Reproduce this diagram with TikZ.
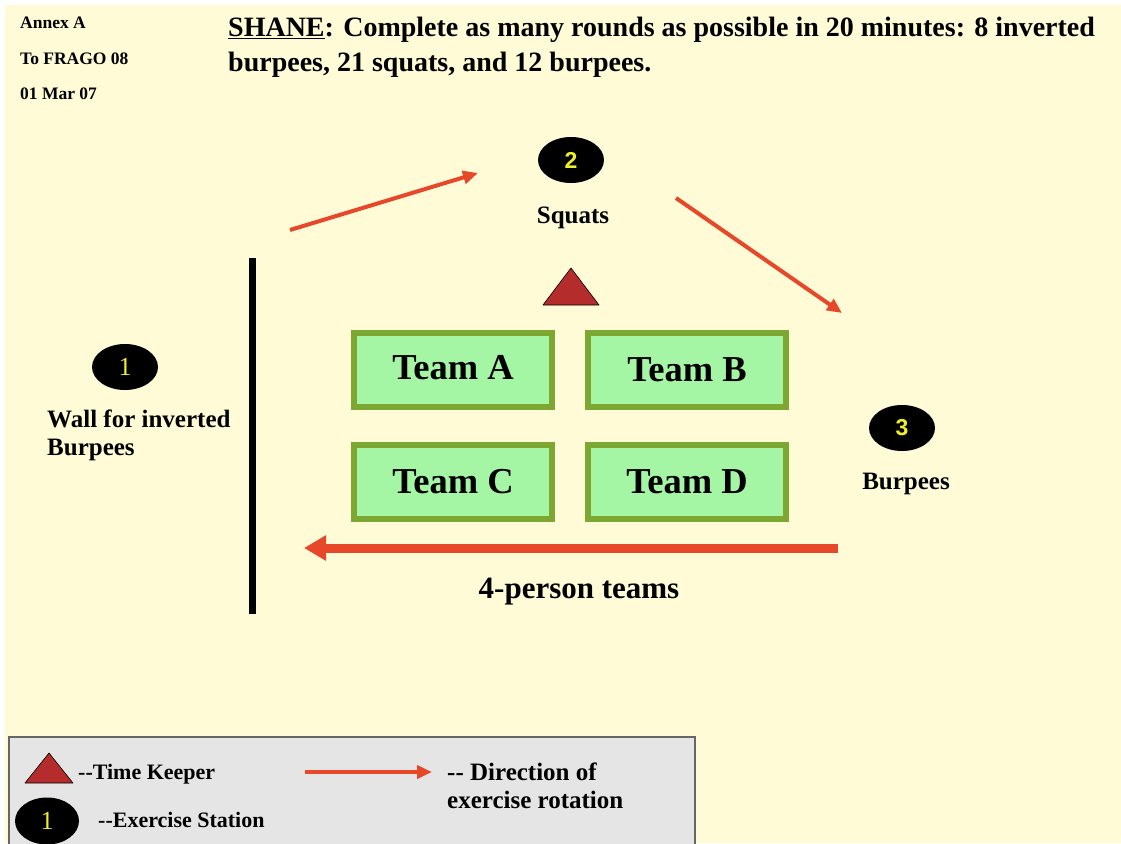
\documentclass[tikz,border=0pt]{standalone}
\usepackage{fontspec}
\setmainfont{Liberation Serif}
\newfontfamily\numsans{Liberation Sans}
\usetikzlibrary{shapes.geometric,arrows.meta}
\definecolor{bgyellow}{RGB}{254,251,214}
\definecolor{arrred}{RGB}{232,72,42}
\definecolor{tkred}{RGB}{180,44,44}
\definecolor{boxgreen}{RGB}{164,245,164}
\definecolor{boxedge}{RGB}{124,168,50}
\definecolor{legendgray}{RGB}{229,229,229}
\definecolor{numyellow}{RGB}{240,240,40}
\begin{document}
\begin{tikzpicture}[x=1pt,y=-1pt,
  every node/.style={font=\bfseries, inner sep=0pt},
  station/.style={ellipse, fill=black, minimum width=66pt, minimum height=46pt, text=numyellow},
  serifnum/.style={font=\fontsize{26}{26}\selectfont},
  sansnum/.style={font=\numsans\bfseries\fontsize{23}{23}\selectfont},
  team/.style={rectangle, draw=boxedge, line width=6pt, fill=boxgreen, minimum width=198pt, minimum height=74pt, font=\bfseries\fontsize{36.5}{36.5}\selectfont},
  flow/.style={draw=arrred, line width=4pt, -{Triangle[length=15pt,width=13pt]}},
  keeper/.style={fill=tkred, draw=black, line width=0.6pt, line join=round},
  hdr/.style={anchor=base west, font=\bfseries\fontsize{17.5}{17.5}\selectfont},
  lbl/.style={font=\bfseries\fontsize{25}{25}\selectfont},
  leg/.style={anchor=base west, font=\bfseries\fontsize{22}{22}\selectfont}
]
\useasboundingbox (0,0) rectangle (1121,843);
\fill[white] (0,0) rectangle (1121,843);
\fill[bgyellow] (5,5) rectangle (1121,843);

% header
\node[hdr] (annex) at (20,29) {Annex A};
\node[hdr] (frago) at (20,64) {To FRAGO 08};
\node[hdr] (date) at (20,99) {01 Mar 07};
\node[anchor=base west, font=\bfseries\fontsize{28}{28}\selectfont] (title1) at (228,37)
  {\underline{SHANE}: Complete as many rounds as possible in 20 minutes: 8 inverted};
\node[anchor=base west, font=\bfseries\fontsize{28}{28}\selectfont] (title2) at (228,71)
  {burpees, 21 squats, and 12 burpees.};

% stations
\node[station, serifnum] (s1) at (125,367) {1};
\node[lbl, anchor=base west] (s1t) at (47,427) {Wall for inverted};
\node[lbl, anchor=base west] (s1u) at (47,455) {Burpees};
\node[station, sansnum] (s2) at (571,160) {2};
\node[lbl] (s2t) at (573,218) {Squats};
\node[station, sansnum] (s3) at (902,428) {3};
\node[lbl] (s3t) at (906,484) {Burpees};

% wall
\coordinate (w1) at (252,258);
\coordinate (w2) at (252,614);
\draw[line width=7pt] (w1) -- (w2);

% time keeper
\coordinate (tkA) at (571,268);
\coordinate (tkL) at (543,305);
\coordinate (tkR) at (599,305);
\draw[keeper] (tkA) -- (tkR) -- (tkL) -- cycle;

% teams
\node[team] (ta) at (453,370) {\raisebox{5pt}{Team A}};
\node[team] (tb) at (687,370) {Team B};
\node[team] (tc) at (453,482) {Team C};
\node[team] (td) at (687,482) {Team D};

% rotation arrows
\coordinate (a1s) at (290,230);
\coordinate (a1e) at (478,173);
\coordinate (a2s) at (676,198);
\coordinate (a2e) at (842,313);
\coordinate (a3s) at (838,548);
\coordinate (a3e) at (304,548);
\draw[flow] (a1s) -- (a1e);
\draw[flow] (a2s) -- (a2e);
\draw[draw=arrred, line width=9pt, -{Triangle[length=22pt,width=24pt]}] (a3s) -- (a3e);
\node[font=\bfseries\fontsize{31}{31}\selectfont] (teams) at (579,592) {4-person teams};

% legend
\node[rectangle, draw=black!60, line width=1.5pt, fill=legendgray, minimum width=686pt, minimum height=110pt, anchor=north west] (legend) at (8,736) {};
\coordinate (ltA) at (49,753);
\coordinate (ltL) at (25,783);
\coordinate (ltR) at (73,783);
\draw[keeper] (ltA) -- (ltR) -- (ltL) -- cycle;
\node[leg] (ltkt) at (78,779) {-{}-Time Keeper};
\node[station, serifnum, minimum width=64pt, minimum height=47pt] (lst) at (47,821) {1};
\node[leg] (lstt) at (98,827) {-{}-Exercise Station};
\coordinate (las) at (305,772);
\coordinate (lae) at (432,772);
\draw[flow] (las) -- (lae);
\node[leg, font=\bfseries\fontsize{25}{25}\selectfont] (lat1) at (447,780) {-{}- Direction of};
\node[leg, font=\bfseries\fontsize{25}{25}\selectfont] (lat2) at (447,808) {exercise rotation};
\end{tikzpicture}
\end{document}
